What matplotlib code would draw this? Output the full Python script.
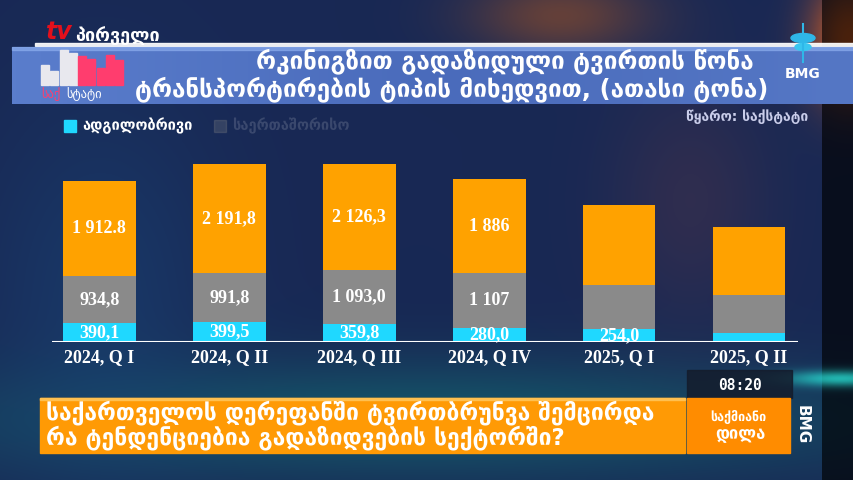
import numpy as np
import matplotlib
matplotlib.use("Agg")
import matplotlib.pyplot as plt
from matplotlib.patches import Rectangle, Ellipse

W, H = 854, 480

# data (thousand tonnes)
quarters = ["2024, Q I", "2024, Q II", "2024, Q III", "2024, Q IV", "2025, Q I", "2025, Q II"]
local = [390.1, 399.5, 359.8, 280.0, 254.0, 180.0]
middle = [934.8, 991.8, 1093.0, 1107.0, 890.0, 760.0]
top = [1912.8, 2191.8, 2126.3, 1886.0, 1620.0, 1365.0]
local_labels = ["390,1", "399,5", "359,8", "280,0", "254,0", ""]
middle_labels = ["934,8", "991,8", "1 093,0", "1 107", "", ""]
top_labels = ["1 912.8", "2 191,8", "2 126,3", "1 886", "", ""]

title_lines = ["რკინიგზით გადაზიდული ტვირთის წონა",
               "ტრანსპორტირების ტიპის მიხედვით, (ათასი ტონა)"]
legend_names = ["ადგილობრივი", "საერთაშორისო"]
source = "წყარო: საქსტატი"
banner_lines = ["საქართველოს დერეფანში ტვირთბრუნვა შემცირდა",
                "რა ტენდენციებია გადაზიდვების სექტორში?"]

C_CYAN = "#1fd8ff"
C_GRAY = "#8a8a8a"
C_ORANGE = "#ffa200"

fig = plt.figure(figsize=(W / 100, H / 100), dpi=100)

# background picture (blurred studio look)
yy, xx = np.mgrid[0:H, 0:W]
img = np.zeros((H, W, 3))
img[:] = np.array([24, 40, 84]) / 255
def blob(cx, cy, sx, sy, col, a):
    g = np.exp(-(((xx - cx) / sx) ** 2 + ((yy - cy) / sy) ** 2))
    for k in range(3):
        img[:, :, k] = img[:, :, k] * (1 - a * g) + col[k] / 255 * a * g
blob(420, 420, 500, 60, (20, 95, 110), 0.8)
blob(100, 300, 120, 200, (25, 70, 120), 0.5)
blob(560, 15, 90, 40, (150, 80, 40), 0.6)
blob(690, 200, 80, 120, (90, 55, 70), 0.35)
blob(850, 40, 40, 60, (230, 100, 30), 0.9)
img[:, 822:] *= 0.35
blob(840, 378, 60, 8, (40, 220, 210), 0.8)
bg = fig.add_axes([0, 0, 1, 1])
bg.imshow(img, extent=(0, W, H, 0), aspect="auto", interpolation="bilinear")
bg.set_xlim(0, W)
bg.set_ylim(H, 0)
bg.axis("off")

# top logo "tv პირველი"
bg.add_patch(Rectangle((35, 43), 819, 3, color="white", alpha=0.9))
bg.text(46, 44, "tv", color="#e3101c", fontsize=17, fontweight="bold",
        style="italic", va="bottom", family="DejaVu Sans")
bg.text(75, 45, "პირველი", color="white", fontsize=13, fontweight="bold", va="bottom")

# title banner
ban = np.linspace(0, 1, 200)[None, :]
bg.imshow(ban, extent=(12, W, 104, 47), cmap=matplotlib.colors.LinearSegmentedColormap.from_list(
    "b", ["#5a7dcc", "#4a6bbb", "#5577c5"]), aspect="auto", zorder=1)
bg.add_patch(Rectangle((12, 47), W - 12, 3, color="#8fb0f0", alpha=0.6, zorder=2))
bg.text(505, 61, title_lines[0], color="white", fontsize=17.5, fontweight="bold",
        ha="center", va="center", zorder=3)
bg.text(452, 89, title_lines[1], color="white", fontsize=17.5, fontweight="bold",
        ha="center", va="center", zorder=3)

# saqstati logo bars
logo_h = [20, 14, 35, 32, 29, 26, 17, 30, 25]
for i, h in enumerate(logo_h):
    bg.add_patch(Rectangle((41 + i * 9.3, 85 - h), 8, h, zorder=3,
                           color="#e8e8ee" if i < 4 else "#ff3d6e"))
bg.text(41, 94, "საქ", color="#ff3d6e", fontsize=9, va="center", zorder=3)
bg.text(66, 94, "სტატი", color="white", fontsize=9, va="center", zorder=3)

# BMG top-right
bg.add_patch(Ellipse((803, 38), 24, 9, color="#2fb7e8", zorder=3))
bg.add_patch(Ellipse((803, 47), 16, 7, color="#3ac6f0", zorder=3))
bg.plot([803, 803], [24, 62], color="#2fb7e8", lw=1.5, zorder=3)
bg.text(803, 74, "BMG", color="white", fontsize=10, fontweight="bold",
        ha="center", va="center", zorder=4)

# legend + source
bg.add_patch(Rectangle((64, 120), 12, 12, color=C_CYAN))
bg.text(82, 126, legend_names[0], color="white", fontsize=10.5, fontweight="bold", va="center")
bg.add_patch(Rectangle((214, 120), 12, 12, color=C_GRAY, alpha=0.25))
bg.text(232, 126, legend_names[1], color="white", fontsize=10.5, fontweight="bold",
        va="center", alpha=0.15)
bg.text(808, 117, source, color="#c9cdea", fontsize=10, fontweight="bold",
        ha="right", va="center")

# chart
ax = fig.add_axes([52 / W, (H - 342) / H, (798 - 52) / W, 192 / H])
ax.set_facecolor("none")
x = np.arange(len(quarters))
b1 = np.array(local)
b2 = b1 + np.array(middle)
ax.bar(x, local, width=0.56, color=C_CYAN)
ax.bar(x, middle, bottom=b1, width=0.56, color=C_GRAY)
ax.bar(x, top, bottom=b2, width=0.56, color=C_ORANGE)
lab = dict(color="white", fontsize=13, fontweight="bold", ha="center",
           va="center", family="Liberation Serif")
for i in x:
    ax.text(i, local[i] / 2, local_labels[i], **lab)
    ax.text(i, b1[i] + middle[i] / 2, middle_labels[i], **lab)
    ax.text(i, b2[i] + top[i] / 2, top_labels[i], **lab)
ax.set_xlim(-0.365, 5.377)
ax.set_ylim(0, 3860)
ax.axhline(0, color="white", lw=1.5)
for s in ax.spines.values():
    s.set_visible(False)
ax.set_yticks([])
ax.set_xticks(x)
ax.set_xticklabels(quarters, color="white", fontsize=13, fontweight="bold",
                   family="Liberation Serif")
ax.tick_params(axis="x", length=0, pad=5)

# lower news banner
bg.add_patch(Rectangle((687, 370), 105, 28, color="#141c2c", alpha=0.85))
bg.text(740, 386, "08:20", color="white", fontsize=10.5, fontweight="bold",
        family="DejaVu Sans Mono", ha="center", va="center")
bg.add_patch(Rectangle((40, 398), 645, 55, color="#ff9a05"))
bg.add_patch(Rectangle((40, 398), 645, 2, color="#ffc050"))
bg.add_patch(Rectangle((687, 398), 103, 55, color="#ff8c00"))
for i, ln in enumerate(banner_lines):
    bg.text(46, 413 + 25 * i, ln, color="white", fontsize=16.5, fontweight="bold",
            va="center")
bg.text(738, 417, "საქმიანი", color="white", fontsize=9, fontweight="bold",
        ha="center", va="center")
bg.text(740, 434, "დილა", color="white", fontsize=12, fontweight="bold",
        ha="center", va="center")
bg.text(802, 425, "BMG", color="white", fontsize=11, fontweight="bold",
        rotation=270, ha="center", va="center")

fig.savefig("out.png", dpi=100)
